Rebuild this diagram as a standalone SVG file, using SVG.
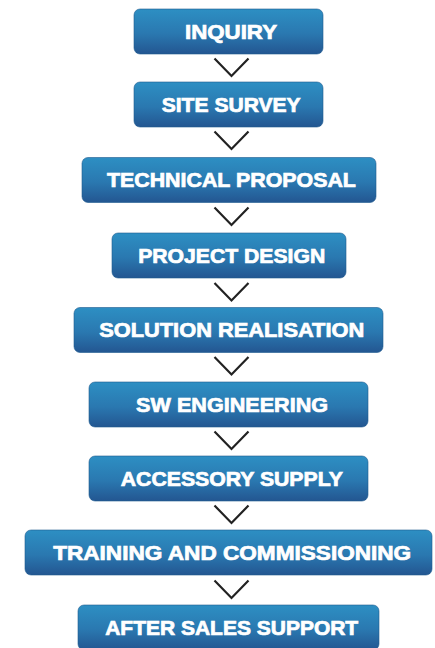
<svg xmlns="http://www.w3.org/2000/svg" width="435" height="648" viewBox="0 0 435 648">
<defs>
<linearGradient id="g" x1="0" y1="0" x2="0" y2="1">
<stop offset="0" stop-color="#2d8fc3"/>
<stop offset="0.55" stop-color="#2a78b0"/>
<stop offset="1" stop-color="#235691"/>
</linearGradient>
<style>
.box{fill:url(#g);stroke:#1f5b8f;stroke-width:0.6}
.lbl{font-family:"Liberation Sans",Arial,sans-serif;font-weight:bold;font-size:19.5px;fill:#ffffff;stroke:#ffffff;stroke-width:0.7;text-anchor:middle}
.chev{fill:none;stroke:#222222;stroke-width:2.2}
</style>
</defs>
<rect width="435" height="648" fill="#ffffff"/>
<g id="n1"><rect class="box" x="134" y="9" width="189" height="45" rx="6"/><text class="lbl" x="231" y="38.5" textLength="92" lengthAdjust="spacingAndGlyphs">INQUIRY</text></g>
<g id="n2"><rect class="box" x="134" y="82" width="189" height="45" rx="6"/><text class="lbl" x="231.2" y="111.5" textLength="139" lengthAdjust="spacingAndGlyphs">SITE SURVEY</text></g>
<g id="n3"><rect class="box" x="82" y="157.5" width="294" height="45" rx="6"/><text class="lbl" x="231.4" y="187" textLength="249" lengthAdjust="spacingAndGlyphs">TECHNICAL PROPOSAL</text></g>
<g id="n4"><rect class="box" x="112" y="233" width="234" height="45" rx="6"/><text class="lbl" x="231.7" y="262.5" textLength="187" lengthAdjust="spacingAndGlyphs">PROJECT DESIGN</text></g>
<g id="n5"><rect class="box" x="74" y="307.5" width="309" height="45" rx="6"/><text class="lbl" x="231.7" y="337" textLength="265" lengthAdjust="spacingAndGlyphs">SOLUTION REALISATION</text></g>
<g id="n6"><rect class="box" x="89" y="382" width="279" height="45" rx="6"/><text class="lbl" x="232.1" y="411.5" textLength="192" lengthAdjust="spacingAndGlyphs">SW ENGINEERING</text></g>
<g id="n7"><rect class="box" x="89" y="456" width="279" height="45" rx="6"/><text class="lbl" x="231.8" y="485.5" textLength="222" lengthAdjust="spacingAndGlyphs">ACCESSORY SUPPLY</text></g>
<g id="n8"><rect class="box" x="25" y="530" width="407" height="45" rx="6"/><text class="lbl" x="232.2" y="559.5" textLength="358" lengthAdjust="spacingAndGlyphs">TRAINING AND COMMISSIONING</text></g>
<g id="n9"><rect class="box" x="78" y="605" width="301" height="45" rx="6"/><text class="lbl" x="231.7" y="634.5" textLength="253" lengthAdjust="spacingAndGlyphs">AFTER SALES SUPPORT</text></g>
<g id="connectors">
<polyline class="chev" points="214.5,58.5 231.5,76 248.5,58.5"/>
<polyline class="chev" points="214.5,131.5 231.5,149 248.5,131.5"/>
<polyline class="chev" points="214.5,207.5 231.5,225 248.5,207.5"/>
<polyline class="chev" points="214.5,283 231.5,300.5 248.5,283"/>
<polyline class="chev" points="214.5,357 231.5,374.5 248.5,357"/>
<polyline class="chev" points="214.5,431.5 231.5,449 248.5,431.5"/>
<polyline class="chev" points="214.5,505.5 231.5,523 248.5,505.5"/>
<polyline class="chev" points="214.5,580.5 231.5,598 248.5,580.5"/>
</g>
</svg>
